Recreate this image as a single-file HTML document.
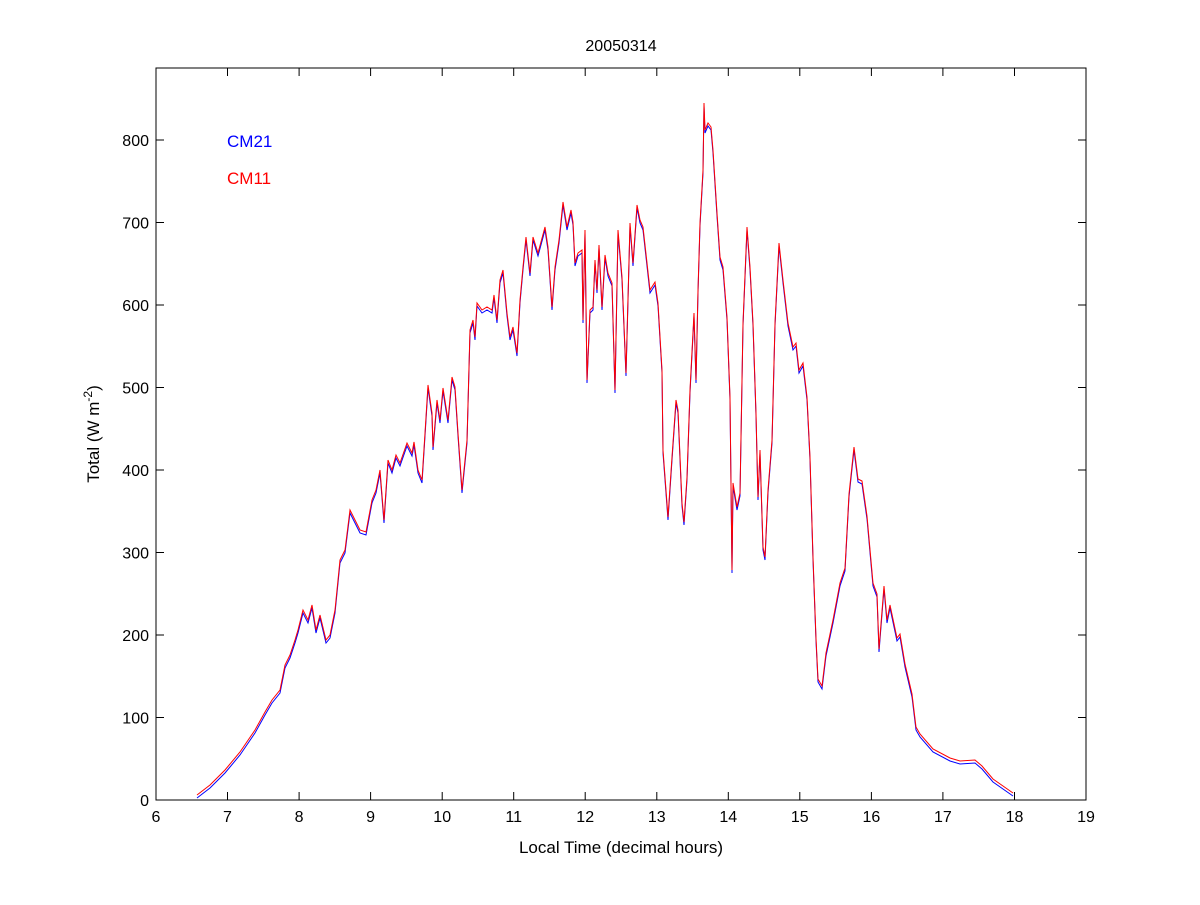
<!DOCTYPE html>
<html><head><meta charset="utf-8"><style>
body{margin:0;background:#fff;}
svg text{font-family:"Liberation Sans",sans-serif;}
</style></head><body>
<svg width="1200" height="900" xmlns="http://www.w3.org/2000/svg">
<rect width="1200" height="900" fill="#fff"/>
<text x="621" y="51" font-size="16" text-anchor="middle">20050314</text>
<defs>
<polyline id="trace" fill="none" points="197,795 210,785 225,770 240,752 255,730 265,712 272,700 280,690 285,665 290,655 295,640 298,630 303,610 308,620 312,605 316,630 320,615 326,640 330,635 335,610 340,560 345,550 350,510 355,520 360,530 366,532 372,500 376,490 380,470 384,520 388,460 392,470 396,455 400,463 407,443 412,453 414,442 418,470 422,480 425,433 428,385 432,413 433,447 437,400 440,420 443,388 448,420 452,377 455,387 458,433 462,490 467,440 470,330 473,320 475,337 477,303 482,310 487,307 492,310 494,295 497,320 500,280 503,270 507,313 510,337 513,327 517,353 520,300 523,267 526,237 530,273 533,237 538,253 545,227 548,247 552,307 555,267 559,240 563,202 567,227 571,210 573,222 575,263 578,253 582,250 583,320 585,230 587,380 590,310 593,307 595,260 597,290 599,245 602,307 605,255 608,273 612,283 615,390 618,230 622,277 626,373 630,223 633,263 637,205 640,220 643,227 650,290 655,282 658,303 662,370 663,450 668,517 672,457 676,400 678,410 682,503 684,522 687,477 690,390 694,313 696,380 698,290 700,223 703,170 704,103 705,130 708,123 711,127 713,150 717,213 720,257 723,267 727,317 730,397 732,570 733,483 737,507 740,493 743,323 747,227 750,267 753,323 756,413 758,497 760,450 763,547 765,557 768,490 772,440 775,323 779,243 783,280 788,323 793,347 796,343 799,370 803,363 807,397 810,457 813,557 816,638 818,679 822,686 826,653 833,620 840,583 845,568 849,494 854,447 858,479 862,481 867,516 873,583 877,594 879,649 884,586 887,620 890,605 897,638 900,634 905,664 912,694 916,727 920,734 933,749 950,758 960,761 975,760 982,766 993,779 1013,793"/>
</defs>
<use href="#trace" stroke="#0000ff" stroke-width="1" transform="translate(0,3)"/>
<use href="#trace" stroke="#ff0000" stroke-width="1"/>
<rect x="156" y="68" width="930" height="732" fill="none" stroke="#000" stroke-width="1"/>
<g stroke="#000" stroke-width="1">
<path d="M156,800v-8M227.5,800v-8M299.1,800v-8M370.6,800v-8M442.2,800v-8M513.7,800v-8M585.2,800v-8M656.8,800v-8M728.3,800v-8M799.8,800v-8M871.4,800v-8M942.9,800v-8M1014.5,800v-8M1086,800v-8
M156,68v8M227.5,68v8M299.1,68v8M370.6,68v8M442.2,68v8M513.7,68v8M585.2,68v8M656.8,68v8M728.3,68v8M799.8,68v8M871.4,68v8M942.9,68v8M1014.5,68v8M1086,68v8
M156,800h8M156,717.5h8M156,635h8M156,552.5h8M156,470h8M156,387.5h8M156,305h8M156,222.5h8M156,140h8
M1086,800h-8M1086,717.5h-8M1086,635h-8M1086,552.5h-8M1086,470h-8M1086,387.5h-8M1086,305h-8M1086,222.5h-8M1086,140h-8"/>
</g>
<g font-size="16" text-anchor="middle">
<text x="156" y="822">6</text><text x="227.5" y="822">7</text><text x="299.1" y="822">8</text><text x="370.6" y="822">9</text><text x="442.2" y="822">10</text><text x="513.7" y="822">11</text><text x="585.2" y="822">12</text><text x="656.8" y="822">13</text><text x="728.3" y="822">14</text><text x="799.8" y="822">15</text><text x="871.4" y="822">16</text><text x="942.9" y="822">17</text><text x="1014.5" y="822">18</text><text x="1086" y="822">19</text>
</g>
<g font-size="16" text-anchor="end">
<text x="149" y="806">0</text><text x="149" y="723.5">100</text><text x="149" y="641">200</text><text x="149" y="558.5">300</text><text x="149" y="476">400</text><text x="149" y="393.5">500</text><text x="149" y="311">600</text><text x="149" y="228.5">700</text><text x="149" y="146">800</text>
</g>
<text x="621" y="853" font-size="17" text-anchor="middle">Local Time (decimal hours)</text>
<text transform="translate(99,434) rotate(-90)" font-size="17" text-anchor="middle">Total (W m<tspan dy="-7" font-size="12">-2</tspan><tspan dy="7">)</tspan></text>
<text x="227" y="147" font-size="17" fill="#0000ff">CM21</text>
<text x="227" y="184" font-size="17" fill="#ff0000">CM11</text>
</svg>
</body></html>
